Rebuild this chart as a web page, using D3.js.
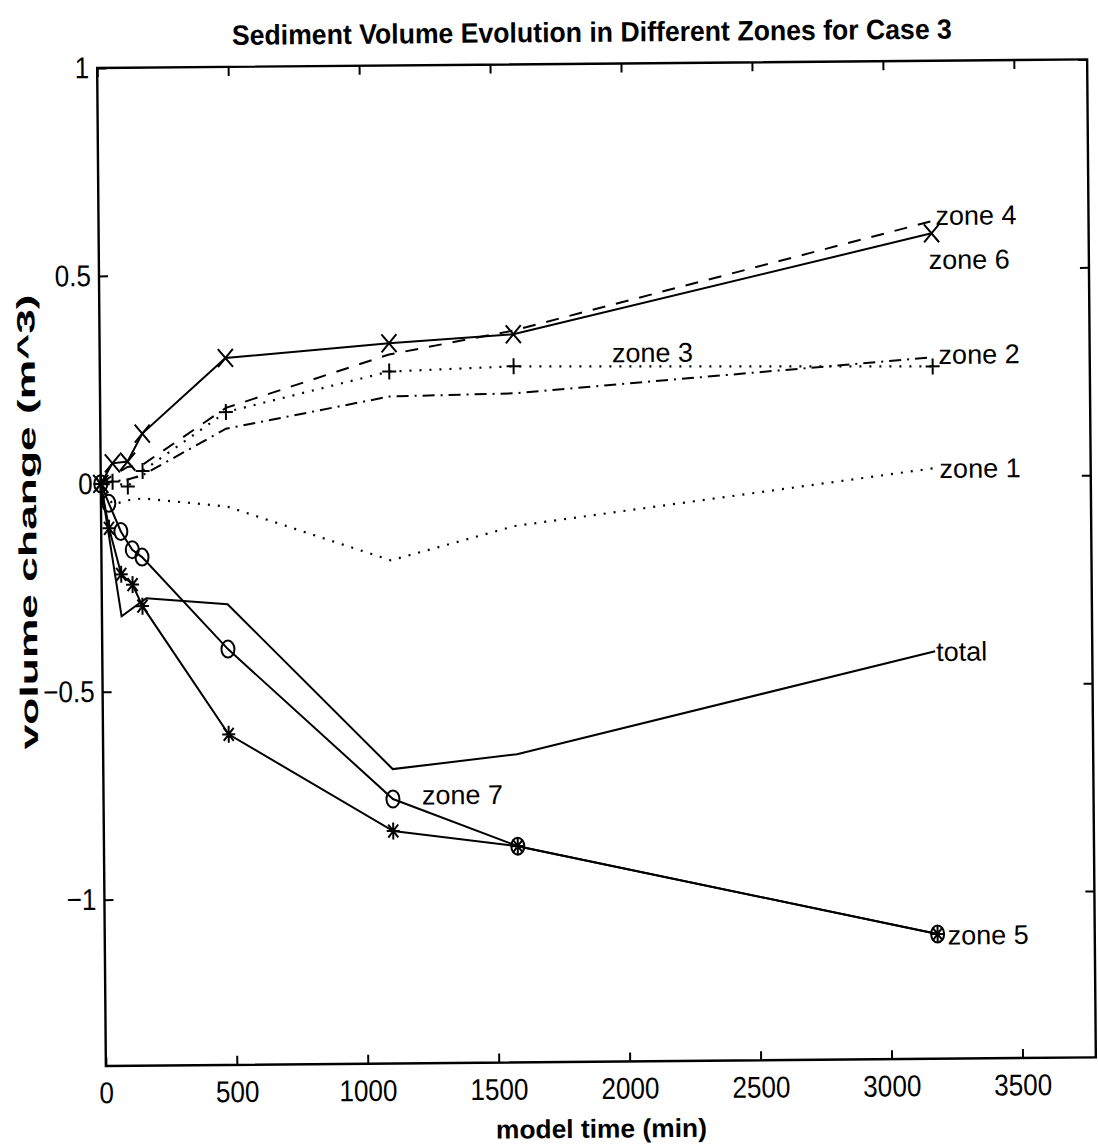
<!DOCTYPE html>
<html>
<head>
<meta charset="utf-8">
<script src="https://cdn.jsdelivr.net/npm/d3@7"></script>
<style>
body { margin: 0; background: #fff; }
svg { display: block; background: #fff; }
text { font-family: "Liberation Sans", Arial, Helvetica, sans-serif; fill: #000; }
</style>
</head>
<body>
<svg id="chart" width="1098" height="1147"></svg>
<script>
//time samples (min)
var timesFine = [0, 30, 75, 118, 155, 480, 1105, 1580, 3180];
var timesCoarse = [0, 45, 103, 160, 480, 1105, 1580, 3180];
var timesTotal = [0, 75, 170, 480, 1105, 1580, 3180];

//volume change (m^3)
var zone1 = [0, -0.05, -0.04, -0.036, -0.057, -0.19, -0.11, 0.02];
var zone2 = [0, 0.005, 0.01, 0.02, 0.13, 0.204, 0.209, 0.287];
var zone3 = [0, 0.005, -0.007, 0.03, 0.17, 0.264, 0.274, 0.265];
var zone4 = [0, 0.02, 0.04, 0.045, 0.18, 0.305, 0.36, 0.614];
var zone5 = [0, -0.107, -0.218, -0.243, -0.295, -0.605, -0.841, -0.88, -1.10];
var zone6 = [0, 0.049, 0.053, 0.12, 0.30, 0.332, 0.351, 0.585];
var zone7 = [0, -0.047, -0.115, -0.159, -0.177, -0.40, -0.764, -0.88, -1.10];
var total = [0, -0.319, -0.276, -0.292, -0.692, -0.659, -0.42];

//ticks
var xTicks = [0, 500, 1000, 1500, 2000, 2500, 3000, 3500];
var yTicks = [-1, -0.5, 0, 0.5, 1];

//chart parameters
var svg = d3.select('#chart');
var margin = {left: 101.5, top: 63.7},
    width = 990,
    height = 998;

//scales
var xScale = d3.scaleLinear().domain([0, 3780]).range([0, width]),
    yScale = d3.scaleLinear().domain([-1.4, 1]).range([height, 0]);

//the scan is slightly tilted
var root = svg.append('g')
    .attr('transform', 'rotate(-0.5,596.5,562.7)');

var canvas = root.append('g')
    .attr('transform', 'translate(' + margin.left + ',' + margin.top + ')');

//squeeze text like the narrow print font
function narrow(sel, k) {
    sel.each(function() {
        var w = this.getComputedTextLength();
        d3.select(this).attr('textLength', w * k).attr('lengthAdjust', 'spacingAndGlyphs');
    });
}

//title
canvas.append('text')
    .attr('x', width / 2)
    .attr('y', -22)
    .attr('text-anchor', 'middle')
    .style('font-size', '28px')
    .style('font-weight', 'bold')
    .attr('textLength', 720)
    .attr('lengthAdjust', 'spacingAndGlyphs')
    .text('Sediment Volume Evolution in Different Zones for Case 3');

//x axis
var xAxis = canvas.append('g')
    .attr('transform', 'translate(0,' + height + ')')
    .call(d3.axisBottom(xScale).tickValues(xTicks).tickSizeInner(-9).tickSizeOuter(0).tickPadding(16)
        .tickFormat(d3.format('d')));
canvas.append('g')
    .call(d3.axisTop(xScale).tickValues(xTicks).tickSizeInner(-9).tickSizeOuter(0).tickFormat(''));

//y axis
var yAxis = canvas.append('g')
    .call(d3.axisLeft(yScale).tickValues(yTicks).tickSizeInner(-9).tickSizeOuter(0).tickPadding(8)
        .tickFormat(d3.format('')));
canvas.append('g')
    .attr('transform', 'translate(' + width + ',0)')
    .call(d3.axisRight(yScale).tickValues(yTicks).tickSizeInner(-9).tickSizeOuter(0).tickFormat(''));

canvas.selectAll('.domain').remove();
canvas.selectAll('.tick line').attr('stroke', '#000').attr('stroke-width', 2);
canvas.selectAll('.tick text')
    .attr('fill', '#000')
    .style('font-size', '30px')
    .style('font-family', '"Liberation Sans", Arial, sans-serif');
narrow(xAxis.selectAll('.tick text'), 0.87);
narrow(yAxis.selectAll('.tick text'), 0.87);

//axis box
canvas.append('rect')
    .attr('width', width)
    .attr('height', height)
    .attr('fill', 'none')
    .attr('stroke', '#000')
    .attr('stroke-width', 2.4);

//axis labels
canvas.append('text')
    .attr('x', width / 2)
    .attr('y', height + 76)
    .attr('text-anchor', 'middle')
    .style('font-size', '26px')
    .style('font-weight', 'bold')
    .attr('textLength', 211)
    .attr('lengthAdjust', 'spacingAndGlyphs')
    .text('model time (min)');

canvas.append('text')
    .attr('transform', 'translate(-65,' + (yScale(-0.09)) + ') rotate(-90)')
    .attr('text-anchor', 'middle')
    .style('font-size', '25px')
    .style('font-weight', 'bold')
    .attr('textLength', 455)
    .attr('lengthAdjust', 'spacingAndGlyphs')
    .text('volume change (m^3)');

//series definitions
var series = [
    {name: 'zone 1', t: timesCoarse, v: zone1, dash: '2,8', marker: null},
    {name: 'zone 2', t: timesCoarse, v: zone2, dash: '12,6,2,6', marker: null},
    {name: 'zone 3', t: timesCoarse, v: zone3, dash: '2,8', marker: 'plus'},
    {name: 'zone 4', t: timesCoarse, v: zone4, dash: '13,11', marker: null},
    {name: 'zone 5', t: timesFine, v: zone5, dash: null, marker: 'star'},
    {name: 'zone 6', t: timesCoarse, v: zone6, dash: null, marker: 'x'},
    {name: 'zone 7', t: timesFine, v: zone7, dash: null, marker: 'circle'},
    {name: 'total', t: timesTotal, v: total, dash: null, marker: null}
];

var line = d3.line()
    .x(d => xScale(d[0]))
    .y(d => yScale(d[1]));

//marker shapes
function markerPath(type) {
    if (type === 'x') return 'M-7.5,-9L7.5,9M-7.5,9L7.5,-9';
    if (type === 'plus') return 'M-7,0L7,0M0,-8L0,8';
    if (type === 'star') return 'M-6.5,0L6.5,0M0,-8.5L0,8.5M-5,-6.5L5,6.5M-5,6.5L5,-6.5';
    return 'M-6.5,0A6.5,8.5 0 1,0 6.5,0A6.5,8.5 0 1,0 -6.5,0Z';
}

//draw lines
series.forEach(function(s) {
    var pts = s.t.map((t, i) => [t, s.v[i]]);
    canvas.append('path')
        .datum(pts)
        .attr('d', line)
        .attr('fill', 'none')
        .attr('stroke', '#000')
        .attr('stroke-width', s.dash && s.dash.length < 5 ? 2.2 : 2)
        .attr('stroke-dasharray', s.dash);
});

//draw markers
series.filter(s => s.marker).forEach(function(s) {
    var pts = s.t.map((t, i) => [t, s.v[i]]);
    canvas.selectAll(null).data(pts)
        .enter().append('path')
            .attr('transform', d => 'translate(' + xScale(d[0]) + ',' + yScale(d[1]) + ')')
            .attr('d', markerPath(s.marker))
            .attr('fill', 'none')
            .attr('stroke', '#000')
            .attr('stroke-width', 2);
});

//labels next to the curves
function endPoint(s) {
    var n = s.t.length - 1;
    return [xScale(s.t[n]), yScale(s.v[n])];
}
var labelOffsets = {
    'zone 1': [6, 0], 'zone 2': [6, -3], 'zone 4': [4, -6], 'zone 6': [-3, 26],
    'zone 5': [10, 1], 'total': [1, 0]
};
series.forEach(function(s) {
    var p;
    if (labelOffsets[s.name]) {
        var e = endPoint(s), o = labelOffsets[s.name];
        p = [e[0] + o[0], e[1] + o[1]];
    } else if (s.name === 'zone 3') {
        p = [xScale(1956), yScale(0.305)];
    } else {
        //zone 7 label beside its t=1100 marker
        p = [xScale(s.t[6]) + 29, yScale(s.v[6]) - 4];
    }
    canvas.append('text')
        .attr('x', p[0])
        .attr('y', p[1])
        .attr('dy', '0.36em')
        .style('font-size', '27px')
        .text(s.name);
});
</script>
</body>
</html>
